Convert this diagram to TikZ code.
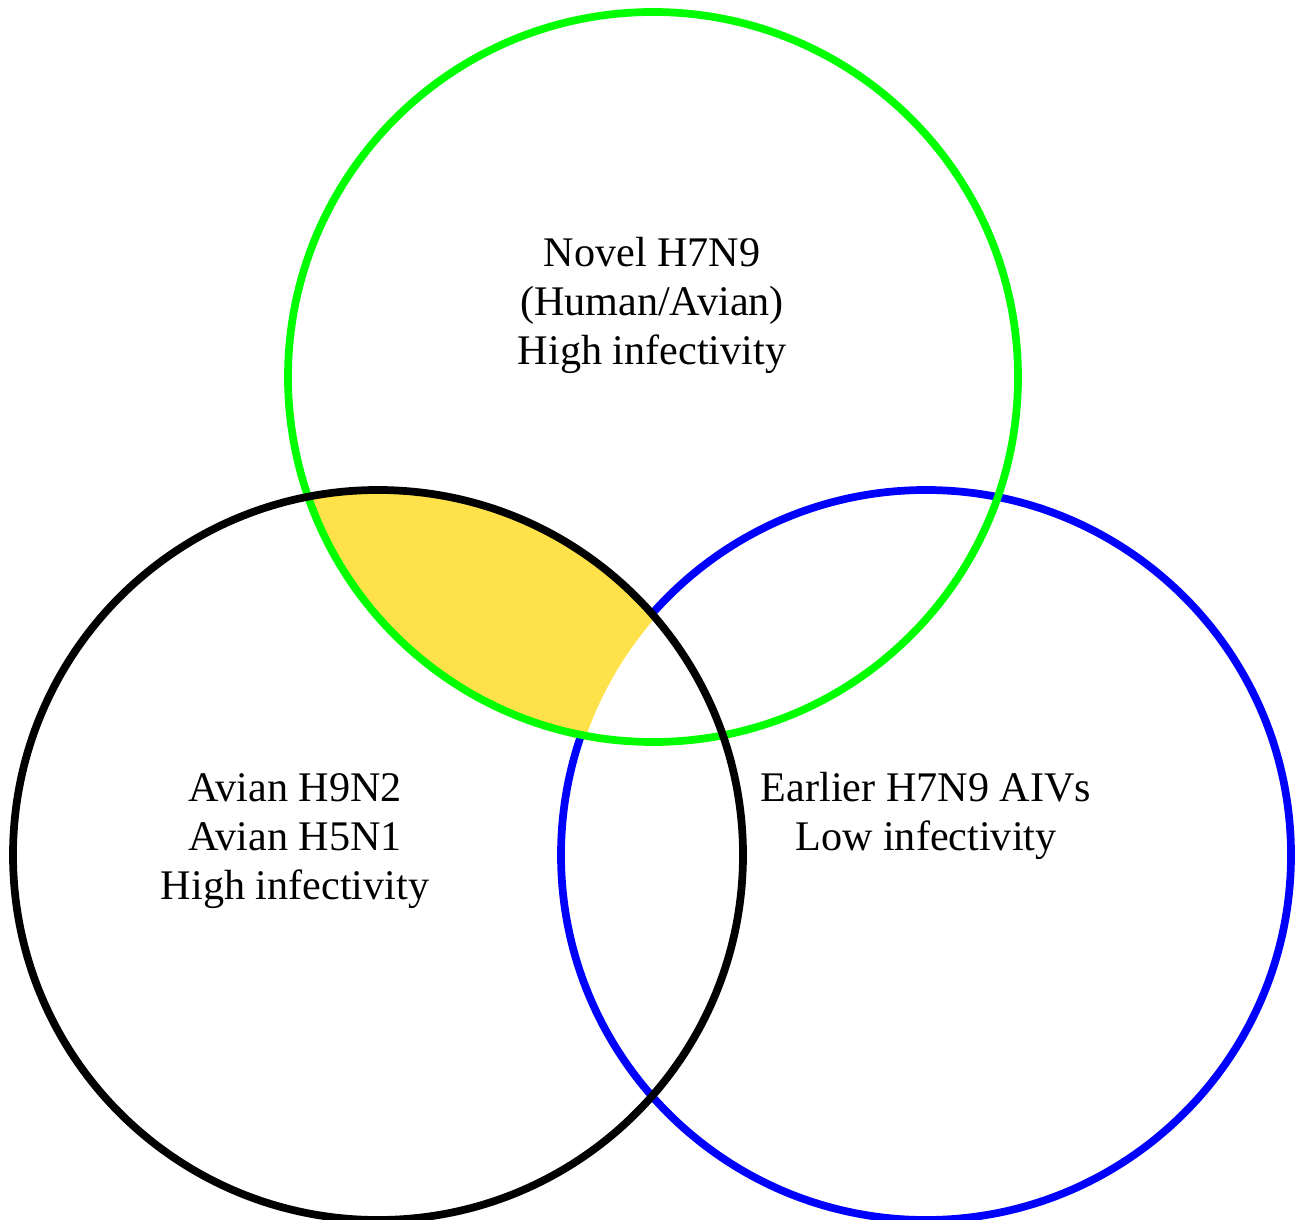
\documentclass[tikz,border=0pt]{standalone}
\usepackage{fontspec}
\setmainfont{Liberation Serif}
\definecolor{vgreen}{RGB}{0,255,0}
\definecolor{vblue}{RGB}{0,0,255}
\definecolor{vyellow}{RGB}{255,226,74}

\begin{document}
\begin{tikzpicture}[ring/.style={line width=4.4pt},
                every node/.style={align=center, inner sep=0pt, font=\fontsize{24}{28}\selectfont}]
                \useasboundingbox (0,0) rectangle (25.9,24.38);
                \coordinate (novel)   at (13.06,16.84);
                \coordinate (avian)   at (7.56,7.28);
                \coordinate (earlier) at (18.52,7.28);
                \draw[ring, vblue] (earlier) circle (7.3);
                % shared region of the two high-infectivity sets
                \begin{scope}
                  \clip (novel) circle (7.3);
                  \clip (avian) circle (7.3);
                  \fill[vyellow, even odd rule] (0,0) rectangle (25.9,24.38) (earlier) circle (7.2);
                \end{scope}
                \draw[ring, vgreen] (novel) circle (7.3);
                \draw[ring, black]  (avian) circle (7.3);
                \node (novtxt) at (13.04,18.27) {Novel H7N9\\(Human/Avian)\\High infectivity};
                \node (avtxt)  at (5.9,7.56)    {Avian H9N2\\Avian H5N1\\High infectivity};
                \node (eatxt)  at (18.52,8.06)  {Earlier H7N9 AIVs\\Low infectivity};
            \end{tikzpicture}
\end{document}
